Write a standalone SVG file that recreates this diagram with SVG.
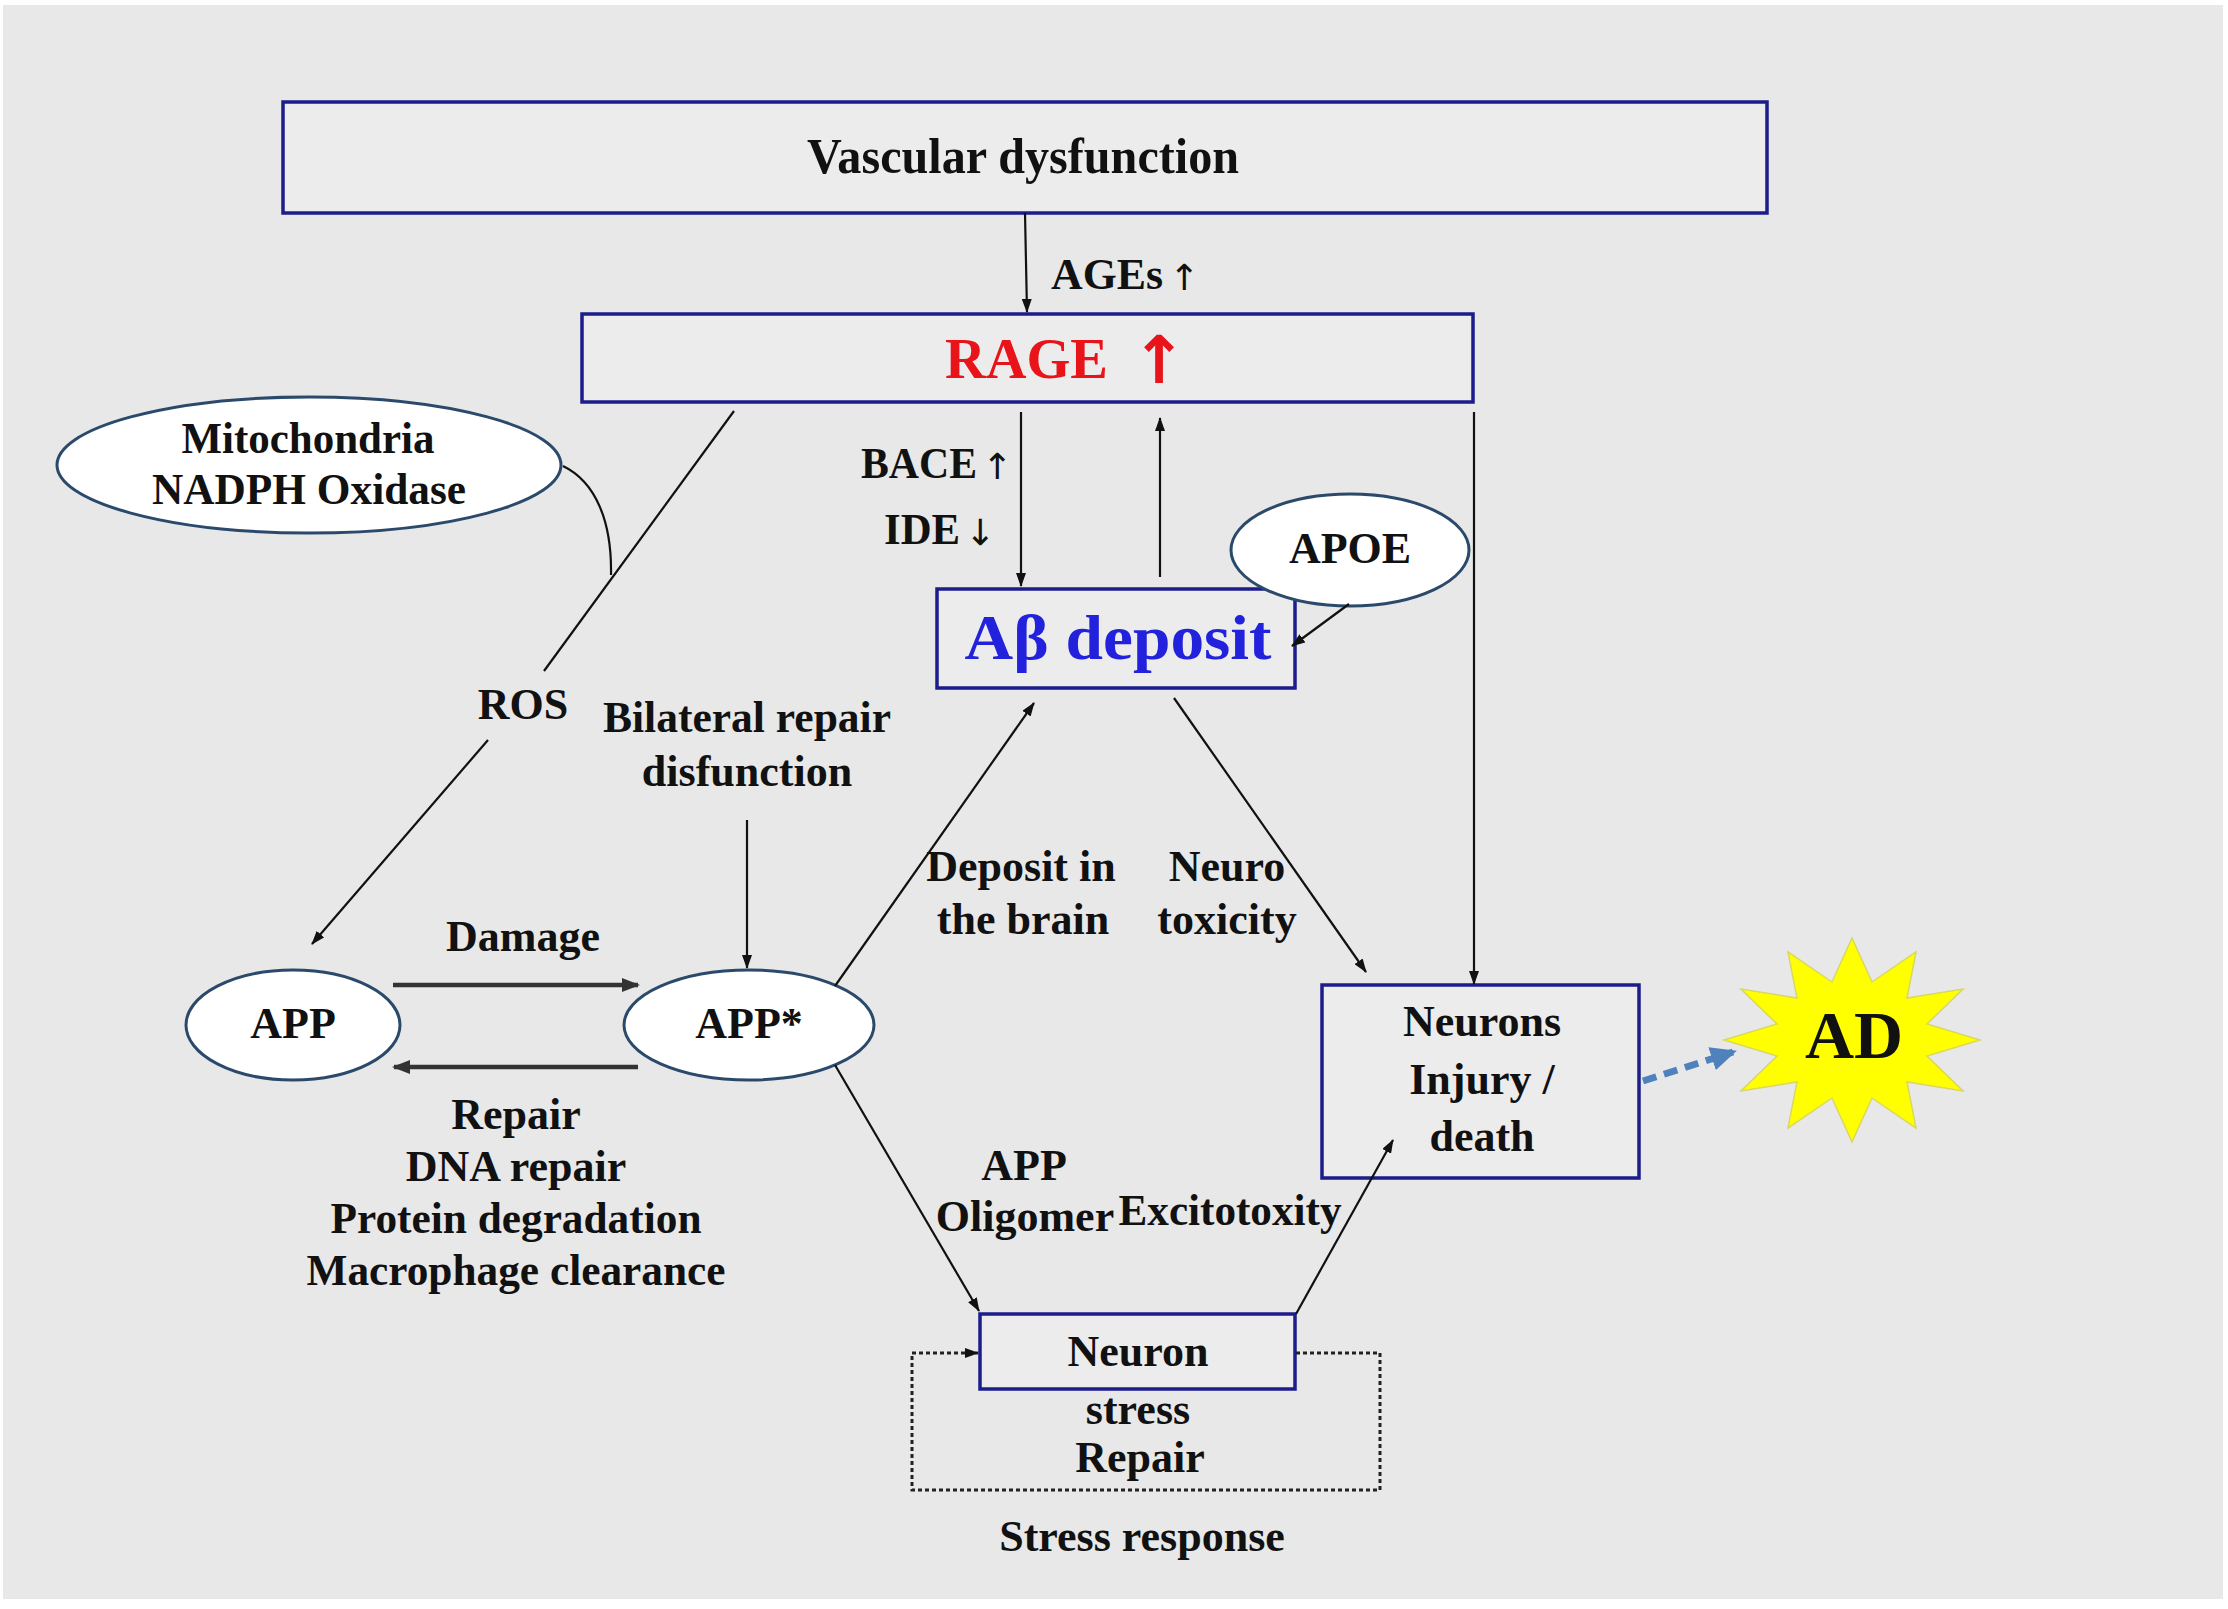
<svg xmlns="http://www.w3.org/2000/svg" width="2228" height="1609" viewBox="0 0 2228 1609">
<defs>
<style>
.t{font-family:"Liberation Serif","DejaVu Serif",serif;font-weight:bold;font-size:44px;fill:#111;text-anchor:middle}
.ar{font-family:"DejaVu Sans",sans-serif;font-weight:normal;fill:#111;text-anchor:middle}
.box{fill:#ececec;stroke:#1c1c8a;stroke-width:3.5}
.ell{fill:#fff;stroke:#2b4a6b;stroke-width:3}
.ln{fill:none;stroke:#111;stroke-width:2.2}
.thick{fill:none;stroke:#333;stroke-width:4.5}
.dash{fill:none;stroke:#222;stroke-width:3;stroke-dasharray:4 3}
</style>
<marker id="ah" markerUnits="userSpaceOnUse" markerWidth="14" markerHeight="10" refX="13" refY="5" orient="auto"><path d="M0,0 L14,5 L0,10 z" fill="#111"/></marker>
<marker id="ahb" markerUnits="userSpaceOnUse" markerWidth="18" markerHeight="14" refX="16" refY="7" orient="auto"><path d="M0,0 L18,7 L0,14 z" fill="#333"/></marker>
<marker id="ahblue" markerUnits="userSpaceOnUse" markerWidth="26" markerHeight="24" refX="22" refY="12" orient="auto"><path d="M0,0 L26,12 L0,24 z" fill="#4f81bd"/></marker>
</defs>
<rect x="0" y="0" width="2228" height="1609" fill="#fff"/>
<rect x="3" y="5" width="2220" height="1594" fill="#e8e8e8"/>

<g id="vascular">
<rect class="box" x="283" y="102" width="1484" height="111"/>
<text class="t" x="1023" y="173" style="font-size:50px" textLength="432" lengthAdjust="spacingAndGlyphs">Vascular dysfunction</text>
</g>
<g id="ages-label">
<text class="t" x="1051" y="289" style="text-anchor:start" textLength="112" lengthAdjust="spacingAndGlyphs">AGEs</text>
<text class="ar" x="1184" y="290" style="font-size:36px">↑</text>
</g>
<g id="rage">
<rect class="box" x="582" y="314" width="891" height="88"/>
<text class="t" x="945" y="378" style="text-anchor:start;fill:#e8141a;font-size:58px" textLength="163" lengthAdjust="spacingAndGlyphs">RAGE</text>
<text class="ar" x="1159" y="383" style="fill:#e8141a;font-size:66px;font-weight:bold">↑</text>
</g>
<g id="bace-ide">
<text class="t" x="861" y="478" style="text-anchor:start" textLength="116" lengthAdjust="spacingAndGlyphs">BACE</text>
<text class="ar" x="997" y="479" style="font-size:36px">↑</text>
<text class="t" x="884" y="544" style="text-anchor:start" textLength="76" lengthAdjust="spacingAndGlyphs">IDE</text>
<text class="ar" x="980" y="545" style="font-size:36px">↓</text>
</g>
<g id="mito">
<ellipse class="ell" cx="309" cy="465" rx="252" ry="68"/>
<text class="t" x="308" y="453" textLength="253" lengthAdjust="spacingAndGlyphs">Mitochondria</text>
<text class="t" x="309" y="504" textLength="314" lengthAdjust="spacingAndGlyphs">NADPH Oxidase</text>
</g>
<g id="ros"><text class="t" x="523" y="719">ROS</text></g>
<g id="bilateral">
<text class="t" x="747" y="732" textLength="288" lengthAdjust="spacingAndGlyphs">Bilateral repair</text>
<text class="t" x="747" y="786">disfunction</text>
</g>
<g id="abeta">
<rect class="box" x="937" y="589" width="358" height="99"/>
<text class="t" x="1118" y="659" style="fill:#2222dd;font-size:64px" textLength="307" lengthAdjust="spacingAndGlyphs">Aβ deposit</text>
</g>
<g id="apoe">
<ellipse class="ell" cx="1350" cy="550" rx="119" ry="56"/>
<text class="t" x="1350" y="563">APOE</text>
</g>
<g id="deposit-label">
<text class="t" x="1021" y="881">Deposit in</text>
<text class="t" x="1023" y="934">the brain</text>
</g>
<g id="neurotox-label">
<text class="t" x="1227" y="881">Neuro</text>
<text class="t" x="1227" y="934">toxicity</text>
</g>
<g id="damage-label"><text class="t" x="523" y="951">Damage</text></g>
<g id="app">
<ellipse class="ell" cx="293" cy="1025" rx="107" ry="55"/>
<text class="t" x="293" y="1038">APP</text>
</g>
<g id="appstar">
<ellipse class="ell" cx="749" cy="1025" rx="125" ry="55"/>
<text class="t" x="749" y="1038">APP*</text>
</g>
<g id="repair-label">
<text class="t" x="516" y="1129">Repair</text>
<text class="t" x="516" y="1181">DNA repair</text>
<text class="t" x="516" y="1233" textLength="371" lengthAdjust="spacingAndGlyphs">Protein degradation</text>
<text class="t" x="516" y="1285" textLength="419" lengthAdjust="spacingAndGlyphs">Macrophage clearance</text>
</g>
<g id="oligomer-label">
<text class="t" x="1024" y="1180">APP</text>
<text class="t" x="1025" y="1231">Oligomer</text>
</g>
<g id="excito-label"><text class="t" x="1230" y="1225" textLength="223" lengthAdjust="spacingAndGlyphs">Excitotoxity</text></g>
<g id="neurons">
<rect class="box" x="1322" y="985" width="317" height="193"/>
<text class="t" x="1482" y="1036">Neurons</text>
<text class="t" x="1482" y="1094">Injury /</text>
<text class="t" x="1482" y="1151">death</text>
</g>
<g id="neuron">
<rect class="box" x="980" y="1314" width="315" height="75"/>
<text class="t" x="1138" y="1366">Neuron</text>
</g>
<g id="stress-repair-label">
<text class="t" x="1138" y="1424">stress</text>
<text class="t" x="1140" y="1472">Repair</text>
</g>
<g id="stress-response-label"><text class="t" x="1142" y="1551">Stress response</text></g>
<g id="ad">
<polygon fill="#ffff00" stroke="#d8d860" stroke-width="1.5" points="1916,952 1907,998 1963,989 1927,1024 1980,1040 1927,1056 1963,1091 1907,1082 1916,1128 1872,1098 1852,1142 1832,1098 1788,1128 1797,1082 1741,1091 1777,1056 1724,1040 1777,1024 1741,989 1797,998 1788,952 1832,982 1852,938 1872,982"/>
<text class="t" x="1854" y="1058" style="font-size:68px">AD</text>
</g>

<g id="connectors">
<line class="ln" x1="1025" y1="213" x2="1027" y2="312" marker-end="url(#ah)"/>
<line class="ln" x1="1021" y1="412" x2="1021" y2="586" marker-end="url(#ah)"/>
<line class="ln" x1="1160" y1="577" x2="1160" y2="418" marker-end="url(#ah)"/>
<line class="ln" x1="1474" y1="412" x2="1474" y2="984" marker-end="url(#ah)"/>
<line class="ln" x1="734" y1="411" x2="544" y2="671"/>
<line class="ln" x1="488" y1="740" x2="312" y2="944" marker-end="url(#ah)"/>
<path class="ln" d="M563,466 C596,482 612,522 611,575"/>
<line class="ln" x1="747" y1="820" x2="747" y2="968" marker-end="url(#ah)"/>
<line class="thick" x1="393" y1="985" x2="638" y2="985" marker-end="url(#ahb)"/>
<line class="thick" x1="638" y1="1067" x2="394" y2="1067" marker-end="url(#ahb)"/>
<line class="ln" x1="835" y1="986" x2="1034" y2="703" marker-end="url(#ah)"/>
<line class="ln" x1="1174" y1="698" x2="1366" y2="972" marker-end="url(#ah)"/>
<line class="ln" x1="835" y1="1065" x2="979" y2="1311" marker-end="url(#ah)"/>
<line class="ln" x1="1296" y1="1314" x2="1393" y2="1140" marker-end="url(#ah)"/>
<line class="ln" x1="1349" y1="604" x2="1292" y2="646" marker-end="url(#ah)"/>
<path class="dash" d="M1296,1353 H1380 V1490 H912 V1353 H978" marker-end="url(#ah)"/>
<line x1="1643" y1="1081" x2="1733" y2="1052" stroke="#4f81bd" stroke-width="7" stroke-dasharray="14 8" marker-end="url(#ahblue)"/>
</g>
</svg>
